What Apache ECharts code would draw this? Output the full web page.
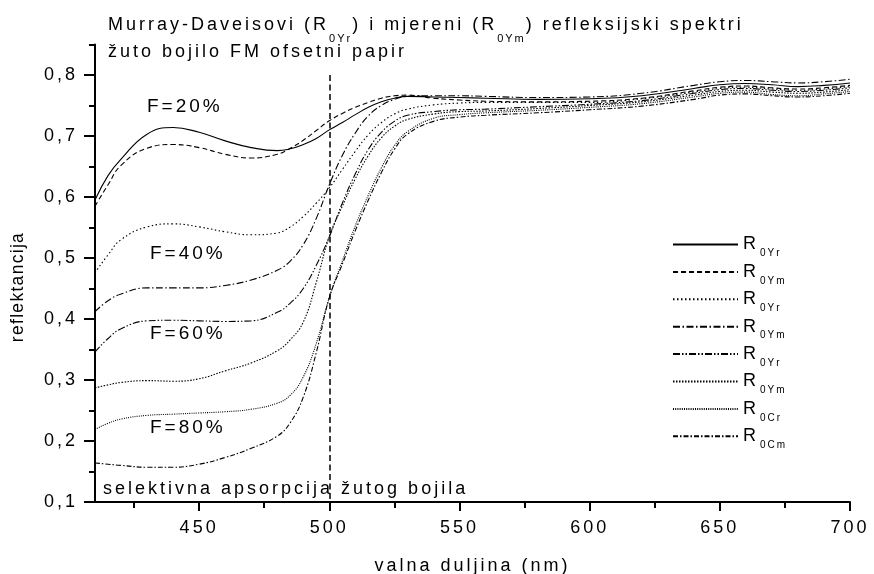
<!DOCTYPE html>
<html><head><meta charset="utf-8">
<script src="https://cdn.jsdelivr.net/npm/echarts@6/dist/echarts.min.js"></script>
<style>html,body{margin:0;padding:0;background:#fff}#c{width:874px;height:574px}</style>
</head><body><div id="c"></div>
<script>
// letter spacing for canvas text (reference uses spaced lettering)
(function(){
  const P = CanvasRenderingContext2D.prototype;
  const pick = ctx => {
    const f = ctx.font || '';
    if (f.indexOf('Arial') >= 0) return '1.3px';
    const m = f.match(/([\d.]+)px/);
    if (m && parseFloat(m[1]) <= 12) return '2px';
    return '3px';
  };
  const fT = P.fillText, sT = P.strokeText, mT = P.measureText;
  P.fillText = function(){ this.letterSpacing = pick(this); return fT.apply(this, arguments); };
  P.strokeText = function(){ this.letterSpacing = pick(this); return sT.apply(this, arguments); };
  P.measureText = function(){ this.letterSpacing = pick(this); return mT.apply(this, arguments); };
})();

const wavelengths = [410,415,420,430,440,450,460,470,480,485,490,495,500,505,510,515,520,525,530,540,550,560,580,600,620,640,650,660,670,680,690,700];
const rF20 = [0.595,0.635,0.662,0.703,0.714,0.706,0.692,0.681,0.676,0.679,0.686,0.696,0.710,0.722,0.735,0.747,0.756,0.762,0.765,0.764,0.763,0.762,0.760,0.761,0.766,0.778,0.784,0.786,0.784,0.781,0.783,0.787];
const mF20 = [0.585,0.620,0.652,0.680,0.686,0.681,0.670,0.664,0.670,0.680,0.693,0.709,0.725,0.737,0.747,0.755,0.762,0.766,0.767,0.762,0.759,0.757,0.756,0.757,0.762,0.774,0.780,0.782,0.779,0.777,0.779,0.783];
const rF40 = [0.476,0.505,0.530,0.551,0.556,0.551,0.543,0.538,0.541,0.551,0.568,0.590,0.615,0.645,0.675,0.702,0.722,0.736,0.744,0.751,0.754,0.755,0.755,0.755,0.761,0.772,0.778,0.780,0.777,0.775,0.777,0.781];
const mF40 = [0.412,0.430,0.441,0.451,0.451,0.451,0.455,0.464,0.480,0.495,0.522,0.565,0.620,0.668,0.705,0.733,0.750,0.760,0.765,0.766,0.766,0.765,0.763,0.764,0.770,0.783,0.789,0.791,0.789,0.787,0.789,0.793];
const rF60 = [0.346,0.368,0.384,0.397,0.398,0.397,0.396,0.397,0.411,0.426,0.450,0.488,0.535,0.590,0.638,0.678,0.706,0.724,0.734,0.740,0.743,0.744,0.748,0.752,0.758,0.770,0.776,0.778,0.775,0.773,0.775,0.779];
const mF60 = [0.287,0.292,0.296,0.299,0.298,0.302,0.315,0.328,0.348,0.366,0.395,0.460,0.535,0.585,0.630,0.668,0.697,0.716,0.727,0.736,0.740,0.741,0.745,0.750,0.756,0.767,0.773,0.775,0.772,0.770,0.772,0.776];
const rF80 = [0.219,0.229,0.236,0.242,0.244,0.246,0.248,0.252,0.262,0.275,0.305,0.360,0.435,0.495,0.553,0.603,0.648,0.684,0.707,0.729,0.735,0.738,0.742,0.747,0.753,0.764,0.770,0.772,0.768,0.766,0.769,0.773];
const mF80 = [0.164,0.162,0.160,0.157,0.157,0.162,0.173,0.188,0.208,0.230,0.272,0.345,0.435,0.490,0.545,0.595,0.640,0.678,0.703,0.724,0.731,0.734,0.738,0.743,0.749,0.760,0.767,0.769,0.766,0.764,0.766,0.770];

const seriesValues = [rF20, mF20, rF40, mF40, rF60, mF60, rF80, mF80];
const legendSubs = ['0Yr','0Ym','0Yr','0Ym','0Yr','0Ym','0Cr','0Cm'];
const coverages = ['20','20','40','40','60','60','80','80'];
const xMajorTicks = [450,500,550,600,650,700];
const xMinorTicks = [425,475,525,575,625,675];
const yMajorTicks = [0.1,0.2,0.3,0.4,0.5,0.6,0.7,0.8];
const yMinorTicks = [0.15,0.25,0.35,0.45,0.55,0.65,0.75,0.85];
const markerWavelength = 500;
const markerRange = [0.1, 0.8];
const fLabels = ['F=20%','F=40%','F=60%','F=80%'];
const bandNote = 'selektivna apsorpcija žutog bojila';

const FONT = 'Liberation Sans';
const dashStyles = ['solid',[5,3],[1.5,2.5],[7,2.5,1.5,2.5],[7,2,1.5,2,1.5,2],[1.5,1.5],[1,1.2],[5,2,1.5,2]];
const names = legendSubs.map((s,i) => 'R' + s + ' F=' + coverages[i] + '%');

const series = seriesValues.map((vals, i) => ({
  name: names[i], type: 'line', xAxisIndex: 0, yAxisIndex: 0,
  data: wavelengths.map((w, k) => [w, vals[k]]),
  symbol: 'none', smooth: 0.45, silent: true,
  lineStyle: { color: '#000', width: 1.1, type: dashStyles[i] },
  itemStyle: { color: '#000' },
  markLine: i === 0 ? {
    symbol: 'none', silent: true, label: { show: false },
    lineStyle: { color: '#000', width: 1.5, type: [6, 3.5] },
    data: [[{ coord: [markerWavelength, markerRange[1]] }, { coord: [markerWavelength, markerRange[0]] }]]
  } : undefined
}));

const fmt = v => v.toFixed(1).replace('.', ',');
const txt = { fontFamily: FONT, color: '#000', fontWeight: 'normal' };

const option = {
  animation: false,
  backgroundColor: '#fff',
  title: [
    { text: '{t|Murray-Daveisovi (R}{s|0Yr}{t|) i mjereni (R}{s|0Ym}{t|) refleksijski spektri}',
      left: 108, top: 15, padding: 0,
      textStyle: { fontWeight: 'normal', rich: {
        t: { fontFamily: FONT, fontSize: 18, fontWeight: 'normal', color: '#000', lineHeight: 20, verticalAlign: 'top' },
        s: { fontFamily: FONT, fontSize: 11, fontWeight: 'normal', color: '#000', verticalAlign: 'top', padding: [17,0,0,0] } } } },
    { text: 'žuto bojilo FM ofsetni papir', left: 108, top: 42, padding: 0,
      textStyle: { fontFamily: FONT, fontSize: 18, color: '#000', fontWeight: 'normal', lineHeight: 20 } }
  ],
  grid: { left: 95, right: 24, top: 44.5, bottom: 72, outerBoundsMode: 'none', containLabel: false },
  legend: {
    orient: 'vertical', left: 672, top: 234, padding: 0,
    itemWidth: 65, itemHeight: 14, itemGap: 1.9,
    data: names, selectedMode: false,
    itemStyle: { opacity: 0 },
    formatter: name => '{r|R}{s|' + legendSubs[names.indexOf(name)] + '}',
    textStyle: { rich: {
      r: { fontFamily: FONT, fontSize: 18, color: '#000', verticalAlign: 'middle' },
      s: { fontFamily: FONT, fontSize: 10, color: '#000', verticalAlign: 'top', padding: [18,0,0,1] } } }
  },
  xAxis: [
    { type: 'value', min: 410, max: 700, position: 'bottom',
      name: 'valna duljina (nm)', nameLocation: 'middle', nameGap: 54,
      nameTextStyle: Object.assign({ fontSize: 18 }, txt),
      axisLine: { onZero: false, lineStyle: { color: '#000', width: 2 } },
      axisTick: { customValues: xMajorTicks, length: 9, lineStyle: { color: '#000', width: 2 } },
      axisLabel: { customValues: xMajorTicks, margin: 16, fontSize: 18, fontFamily: FONT, color: '#000' },
      splitLine: { show: false } },
    { type: 'value', min: 410, max: 700, position: 'bottom', offset: 0,
      axisLine: { show: false },
      axisTick: { customValues: xMinorTicks, length: 6, lineStyle: { color: '#000', width: 2 } },
      axisLabel: { show: false }, splitLine: { show: false } }
  ],
  yAxis: [
    { type: 'value', min: 0.1, max: 0.85, position: 'left',
      axisLine: { show: true, onZero: false, lineStyle: { color: '#000', width: 2 } },
      axisTick: { show: true, customValues: yMajorTicks, length: 11, lineStyle: { color: '#000', width: 2 } },
      axisLabel: { customValues: yMajorTicks, formatter: fmt, margin: 17, fontSize: 18, fontFamily: FONT, color: '#000' },
      splitLine: { show: false } },
    { type: 'value', min: 0.1, max: 0.85, position: 'left', offset: 0,
      axisLine: { show: false },
      axisTick: { show: true, customValues: yMinorTicks, length: 6, lineStyle: { color: '#000', width: 2 } },
      axisLabel: { show: false }, splitLine: { show: false } }
  ],
  graphic: [
    { type: 'text', x: 147, y: 107, style: { text: fLabels[0], fontFamily: FONT, fontSize: 19, fill: '#000', verticalAlign: 'middle' } },
    { type: 'text', x: 150, y: 254, style: { text: fLabels[1], fontFamily: FONT, fontSize: 19, fill: '#000', verticalAlign: 'middle' } },
    { type: 'text', x: 150, y: 334, style: { text: fLabels[2], fontFamily: FONT, fontSize: 19, fill: '#000', verticalAlign: 'middle' } },
    { type: 'text', x: 150, y: 428, style: { text: fLabels[3], fontFamily: FONT, fontSize: 19, fill: '#000', verticalAlign: 'middle' } },
    { type: 'text', x: 103, y: 489, style: { text: bandNote, fontFamily: FONT, fontSize: 18, fill: '#000', verticalAlign: 'middle' } },
    { type: 'text', x: 18, y: 287, rotation: Math.PI / 2, style: { text: 'reflektancija', fontFamily: "'Liberation Sans', Arial", fontSize: 17.5, fill: '#000', align: 'center', verticalAlign: 'middle' } }
  ],
  series: series
};

const chart = echarts.init(document.getElementById('c'), null, { renderer: 'canvas' });
chart.setOption(option);
</script>
</body></html>
